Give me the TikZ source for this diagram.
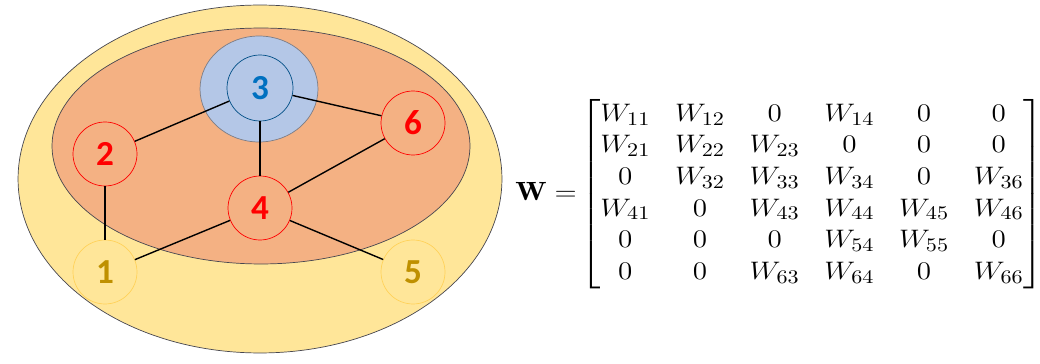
\documentclass[tikz,border=0pt]{standalone}
\usepackage{amsmath,amssymb}
\usepackage{fontspec}
\newfontfamily\labelfont{Carlito}
\definecolor{outerfill}{RGB}{255,230,153}
\definecolor{innerfill}{RGB}{244,177,131}
\definecolor{hubfill}{RGB}{180,199,231}
\definecolor{hubtext}{RGB}{0,112,192}
\definecolor{goldtext}{RGB}{191,144,0}
\definecolor{goldline}{RGB}{255,210,90}
\definecolor{rimline}{RGB}{70,70,80}
\usetikzlibrary{positioning}
\tikzset{
  vert/.style={circle, minimum size=1.28cm, inner sep=0pt, font=\labelfont\fontsize{20}{24}\selectfont\bfseries},
  redvert/.style={vert, draw=red, fill=innerfill, text=red},
  goldvert/.style={vert, draw=goldline, fill=outerfill, text=goldtext},
  hubvert/.style={vert, minimum size=1.32cm, draw=hubtext!70!black, fill=hubfill, text=hubtext},
  link/.style={black, line width=0.8pt}
}
\begin{document}
\begin{tikzpicture}[x=0.02cm, y=-0.02cm]
        \useasboundingbox (0,0) rectangle (1040,364);

        % the two regions
        \draw[rimline, thin, fill=outerfill] (260,179) ellipse [x radius=4.84cm, y radius=3.48cm];
        \draw[rimline, thin, fill=innerfill] (261,146) ellipse [x radius=4.18cm, y radius=2.36cm];
        \draw[rimline!70, thin, fill=hubfill] (259,89) ellipse [x radius=1.18cm, y radius=1.06cm];

        % vertices
        \node[hubvert] (n3) at (260,88) {3};
        \node[redvert] (n2) at (105,154) {2};
        \node[redvert] (n6) at (413,123) {6};
        \node[redvert] (n4) at (260,208) {4};
        \node[goldvert] (n1) at (105,272) {1};
        \node[goldvert] (n5) at (413,272) {5};

        % edges
        \draw[link] (n3) -- (n2);
        \draw[link] (n3) -- (n6);
        \draw[link] (n3) -- (n4);
        \draw[link] (n2) -- (n1);
        \draw[link] (n4) -- (n1);
        \draw[link] (n4) -- (n6);
        \draw[link] (n4) -- (n5);

        % weight matrix
        \node[anchor=west, inner sep=0pt, font=\fontsize{15}{18}\selectfont] (wmat) at (515,194) {%
          \setlength\arraycolsep{6.1pt}%
          \scalebox{1.15}[1]{$\mathbf{W} =\! \begin{bmatrix}
            W_{11} & W_{12} & 0 & W_{14} & 0 & 0\\
            W_{21} & W_{22} & W_{23} & 0 & 0 & 0\\
            0 & W_{32} & W_{33} & W_{34} & 0 & W_{36}\\
            W_{41} & 0 & W_{43} & W_{44} & W_{45} & W_{46}\\
            0 & 0 & 0 & W_{54} & W_{55} & 0\\
            0 & 0 & W_{63} & W_{64} & 0 & W_{66}
          \end{bmatrix}$}};
      \end{tikzpicture}
\end{document}
